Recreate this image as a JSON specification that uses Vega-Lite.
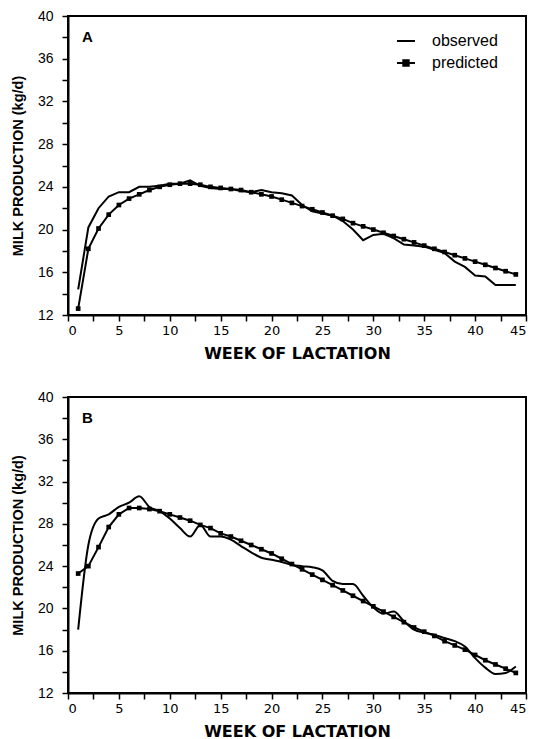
{
  "$schema": "https://vega.github.io/schema/vega-lite/v6.json",
  "datasets": {
    "A": [
      {"week":1,"observed":14.4,"predicted":12.6},{"week":2,"observed":20.2,"predicted":18.2},{"week":3,"observed":22.0,"predicted":20.1},{"week":4,"observed":23.1,"predicted":21.4},{"week":5,"observed":23.5,"predicted":22.3},{"week":6,"observed":23.5,"predicted":22.9},{"week":7,"observed":24.0,"predicted":23.3},{"week":8,"observed":24.0,"predicted":23.7},{"week":9,"observed":24.1,"predicted":24.0},{"week":10,"observed":24.3,"predicted":24.2},{"week":11,"observed":24.3,"predicted":24.3},{"week":12,"observed":24.6,"predicted":24.3},{"week":13,"observed":24.1,"predicted":24.2},{"week":14,"observed":23.9,"predicted":24.0},{"week":15,"observed":23.8,"predicted":23.9},{"week":16,"observed":23.8,"predicted":23.8},{"week":17,"observed":23.6,"predicted":23.7},{"week":18,"observed":23.5,"predicted":23.5},{"week":19,"observed":23.7,"predicted":23.3},{"week":20,"observed":23.5,"predicted":23.1},{"week":21,"observed":23.4,"predicted":22.8},{"week":22,"observed":23.2,"predicted":22.5},{"week":23,"observed":22.3,"predicted":22.2},{"week":24,"observed":21.7,"predicted":21.9},{"week":25,"observed":21.5,"predicted":21.6},{"week":26,"observed":21.3,"predicted":21.3},{"week":27,"observed":20.8,"predicted":21.0},{"week":28,"observed":20.0,"predicted":20.6},{"week":29,"observed":19.0,"predicted":20.3},{"week":30,"observed":19.5,"predicted":20.0},{"week":31,"observed":19.6,"predicted":19.7},{"week":32,"observed":19.2,"predicted":19.4},{"week":33,"observed":18.6,"predicted":19.1},{"week":34,"observed":18.5,"predicted":18.8},{"week":35,"observed":18.4,"predicted":18.5},{"week":36,"observed":18.1,"predicted":18.2},{"week":37,"observed":17.8,"predicted":17.9},{"week":38,"observed":17.0,"predicted":17.6},{"week":39,"observed":16.5,"predicted":17.3},{"week":40,"observed":15.7,"predicted":17.0},{"week":41,"observed":15.6,"predicted":16.7},{"week":42,"observed":14.8,"predicted":16.4},{"week":43,"observed":14.8,"predicted":16.1},{"week":44,"observed":14.8,"predicted":15.8}
    ],
    "B": [
      {"week":1,"observed":18.0,"predicted":23.3},{"week":2,"observed":26.0,"predicted":24.0},{"week":3,"observed":28.5,"predicted":25.8},{"week":4,"observed":28.9,"predicted":27.7},{"week":5,"observed":29.6,"predicted":28.9},{"week":6,"observed":30.0,"predicted":29.5},{"week":7,"observed":30.6,"predicted":29.5},{"week":8,"observed":29.6,"predicted":29.4},{"week":9,"observed":29.2,"predicted":29.2},{"week":10,"observed":28.5,"predicted":28.9},{"week":11,"observed":27.6,"predicted":28.6},{"week":12,"observed":26.8,"predicted":28.3},{"week":13,"observed":27.9,"predicted":27.9},{"week":14,"observed":26.8,"predicted":27.6},{"week":15,"observed":26.8,"predicted":27.1},{"week":16,"observed":26.5,"predicted":26.8},{"week":17,"observed":25.9,"predicted":26.4},{"week":18,"observed":25.3,"predicted":26.0},{"week":19,"observed":24.8,"predicted":25.6},{"week":20,"observed":24.6,"predicted":25.2},{"week":21,"observed":24.4,"predicted":24.7},{"week":22,"observed":24.1,"predicted":24.2},{"week":23,"observed":24.0,"predicted":23.7},{"week":24,"observed":23.9,"predicted":23.2},{"week":25,"observed":23.6,"predicted":22.7},{"week":26,"observed":22.6,"predicted":22.2},{"week":27,"observed":22.3,"predicted":21.7},{"week":28,"observed":22.3,"predicted":21.2},{"week":29,"observed":21.2,"predicted":20.7},{"week":30,"observed":20.1,"predicted":20.2},{"week":31,"observed":19.5,"predicted":19.7},{"week":32,"observed":19.7,"predicted":19.2},{"week":33,"observed":18.8,"predicted":18.7},{"week":34,"observed":18.0,"predicted":18.2},{"week":35,"observed":17.7,"predicted":17.8},{"week":36,"observed":17.5,"predicted":17.4},{"week":37,"observed":17.2,"predicted":16.9},{"week":38,"observed":16.9,"predicted":16.5},{"week":39,"observed":16.4,"predicted":16.1},{"week":40,"observed":15.3,"predicted":15.6},{"week":41,"observed":14.4,"predicted":15.1},{"week":42,"observed":13.8,"predicted":14.7},{"week":43,"observed":13.9,"predicted":14.3},{"week":44,"observed":14.5,"predicted":13.9}
    ]
  },
  "padding": {"left": 9, "top": 8, "right": 8, "bottom": 5},
  "spacing": 27,
  "config": {
    "font": "Liberation Sans",
    "view": {"stroke": "black", "strokeWidth": 2},
    "axis": {
      "grid": false,
      "domainColor": "black",
      "domainWidth": 2,
      "tickColor": "black",
      "tickWidth": 1.5,
      "tickSize": 6,
      "labelColor": "black",
      "titleFont": "Liberation Sans",
      "titleFontWeight": "bold",
      "titleColor": "black"
    },
    "axisX": {"labelPadding": 3, "titlePadding": 8, "labelFont": "DejaVu Sans", "labelFontSize": 13, "titleFont": "DejaVu Sans", "titleFontSize": 16},
    "axisY": {"labelPadding": 9, "titlePadding": 12, "labelFont": "Liberation Sans", "labelFontSize": 14, "titleFontSize": 14.5},
    "legend": {
      "orient": "none",
      "legendX": 328,
      "legendY": 15,
      "padding": 0,
      "title": null,
      "labelFont": "Liberation Sans",
      "labelFontSize": 16,
      "labelColor": "black",
      "symbolType": "stroke",
      "symbolSize": 324,
      "symbolStrokeWidth": 2,
      "symbolStrokeColor": "black",
      "rowPadding": 4,
      "labelOffset": 16
    }
  },
  "vconcat": [
    {
      "width": 458,
      "height": 299,
      "data": {"name": "A"},
      "transform": [{"fold": ["observed", "predicted"], "as": ["series", "milk"]}],
      "encoding": {
        "x": {"field": "week", "type": "quantitative", "scale": {"domain": [0, 45], "nice": false},
          "axis": {"title": "WEEK OF LACTATION", "values": [0,2.5,5,7.5,10,12.5,15,17.5,20,22.5,25,27.5,30,32.5,35,37.5,40,42.5,45], "labelExpr": "datum.value % 5 === 0 ? datum.label : ''",
            "encode": {"ticks": {"update": {"y2": {"value": -6}}}}}},
        "y": {"field": "milk", "type": "quantitative", "scale": {"domain": [12, 40], "nice": false},
          "axis": {"title": "MILK PRODUCTION (kg/d)", "values": [12,14,16,18,20,22,24,26,28,30,32,34,36,38,40], "labelExpr": "datum.value % 4 === 0 ? datum.label : ''",
            "encode": {"ticks": {"update": {"x2": {"value": 6}}}}}},
        "color": {"field": "series", "type": "nominal",
          "scale": {"domain": ["observed", "predicted"], "range": ["black", "black"]},
          "legend": {"encode": {"symbols": {"update": {"shape": {"signal": "datum.value === 'predicted' ? 'M-1,0H1M-0.3,-0.3H0.3V0.3H-0.3Z' : 'stroke'"}, "fill": {"value": "black"}, "stroke": {"value": "black"}}}}}}
      },
      "layer": [
        {
          "mark": {"type": "line", "strokeWidth": 2, "interpolate": "linear"}
        },
        {
          "transform": [{"filter": "datum.series === 'predicted'"}],
          "mark": {"type": "square", "size": 22, "color": "black", "opacity": 1}
        },
        {
          "transform": [{"filter": "datum.series === 'observed' && datum.week === 1"}],
          "mark": {"type": "text", "text": "A", "fontWeight": "bold", "fontSize": 15, "font": "Liberation Sans"},
          "encoding": {"x": {"datum": 1.9}, "y": {"datum": 38.0}, "color": {"value": "black"}}
        }
      ]
    },
    {
      "width": 458,
      "height": 296,
      "data": {"name": "B"},
      "transform": [{"fold": ["observed", "predicted"], "as": ["series", "milk"]}],
      "encoding": {
        "x": {"field": "week", "type": "quantitative", "scale": {"domain": [0, 45], "nice": false},
          "axis": {"title": "WEEK OF LACTATION", "values": [0,2.5,5,7.5,10,12.5,15,17.5,20,22.5,25,27.5,30,32.5,35,37.5,40,42.5,45], "labelExpr": "datum.value % 5 === 0 ? datum.label : ''",
            "encode": {"ticks": {"update": {"y2": {"value": -6}}}}}},
        "y": {"field": "milk", "type": "quantitative", "scale": {"domain": [12, 40], "nice": false},
          "axis": {"title": "MILK PRODUCTION (kg/d)", "values": [12,14,16,18,20,22,24,26,28,30,32,34,36,38,40], "labelExpr": "datum.value % 4 === 0 ? datum.label : ''",
            "encode": {"ticks": {"update": {"x2": {"value": 6}}}}}},
        "color": {"field": "series", "type": "nominal",
          "scale": {"domain": ["observed", "predicted"], "range": ["black", "black"]},
          "legend": {"encode": {"symbols": {"update": {"shape": {"signal": "datum.value === 'predicted' ? 'M-1,0H1M-0.3,-0.3H0.3V0.3H-0.3Z' : 'stroke'"}, "fill": {"value": "black"}, "stroke": {"value": "black"}}}}}}
      },
      "layer": [
        {
          "transform": [{"filter": "datum.series === 'observed'"}],
          "mark": {"type": "line", "strokeWidth": 2, "interpolate": "monotone"}
        },
        {
          "transform": [{"filter": "datum.series === 'predicted'"}],
          "mark": {"type": "line", "strokeWidth": 2, "interpolate": "linear"}
        },
        {
          "transform": [{"filter": "datum.series === 'predicted'"}],
          "mark": {"type": "square", "size": 22, "color": "black", "opacity": 1}
        },
        {
          "transform": [{"filter": "datum.series === 'observed' && datum.week === 1"}],
          "mark": {"type": "text", "text": "B", "fontWeight": "bold", "fontSize": 15, "font": "Liberation Sans"},
          "encoding": {"x": {"datum": 1.9}, "y": {"datum": 38.0}, "color": {"value": "black"}}
        }
      ]
    }
  ]
}
